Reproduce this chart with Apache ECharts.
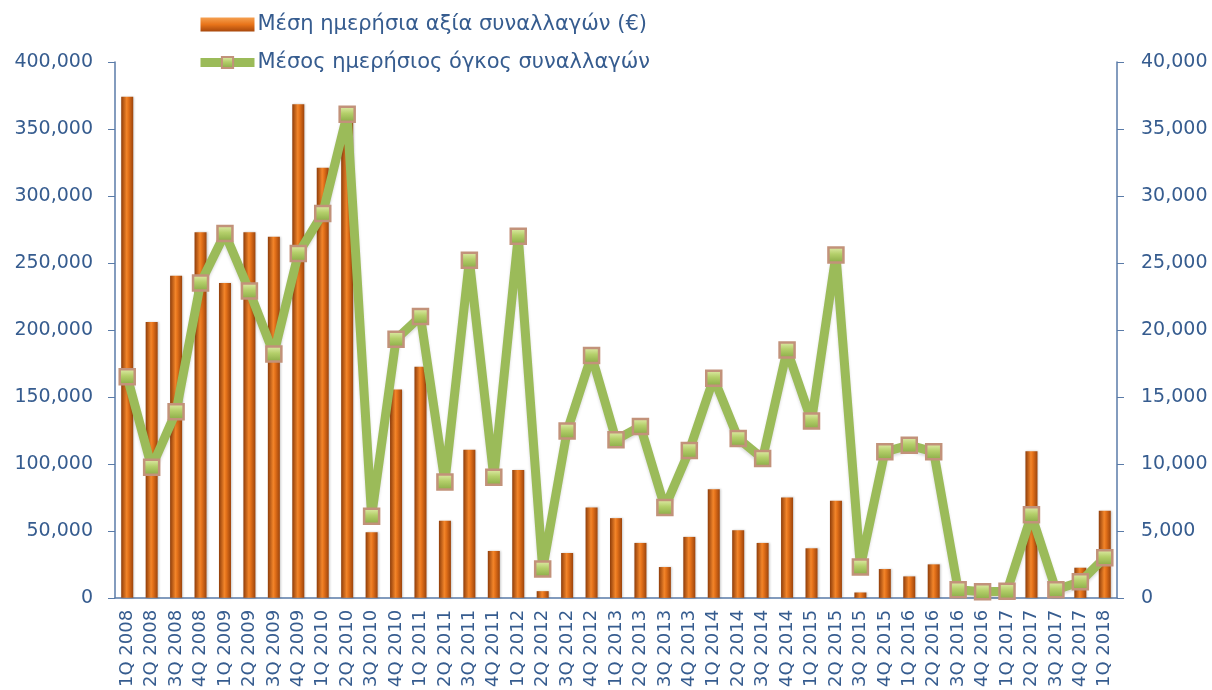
<!DOCTYPE html>
<html>
<head>
<meta charset="utf-8">
<script src="https://cdn.jsdelivr.net/npm/echarts@6/dist/echarts.min.js"></script>
<style>
html,body{margin:0;padding:0;background:#fff;}
#chart{width:1212px;height:690px;}
</style>
</head>
<body>
<div id="chart"></div>
<script>
const categories = ["1Q 2008","2Q 2008","3Q 2008","4Q 2008","1Q 2009","2Q 2009","3Q 2009","4Q 2009",
"1Q 2010","2Q 2010","3Q 2010","4Q 2010","1Q 2011","2Q 2011","3Q 2011","4Q 2011",
"1Q 2012","2Q 2012","3Q 2012","4Q 2012","1Q 2013","2Q 2013","3Q 2013","4Q 2013",
"1Q 2014","2Q 2014","3Q 2014","4Q 2014","1Q 2015","2Q 2015","3Q 2015","4Q 2015",
"1Q 2016","2Q 2016","3Q 2016","4Q 2016","1Q 2017","2Q 2017","3Q 2017","4Q 2017","1Q 2018"];

const valueSeriesName = "Μέση ημερήσια αξία συναλλαγών (€)";
const volumeSeriesName = "Μέσος ημερήσιος όγκος συναλλαγών";

const avgDailyValue = [374000,206000,240500,273000,235000,273000,269500,368500,
321000,355000,49000,155500,172500,57500,110500,35000,
95500,5000,33500,67500,59500,41000,23000,45500,
81000,50500,41000,75000,37000,72500,4000,21500,
16000,25000,1500,1000,1000,109500,9000,22500,65000];

const avgDailyVolume = [16500,9750,13900,23500,27200,22900,18200,25700,
28700,36100,6100,19300,21000,8650,25200,9000,
27000,2150,12450,18100,11800,12800,6750,11000,
16400,11900,10400,18500,13200,25600,2300,10900,
11400,10900,600,450,500,6200,600,1200,3000];

const leftTicks = {min:0, max:400000, interval:50000};
const rightTicks = {min:0, max:40000, interval:5000};

const fontFamily = "DejaVu Sans";
const textColor = "#365c8f";
const axisColor = "#5a7ba8";

const barGradient = new echarts.graphic.LinearGradient(0,0,1,0,[
  {offset:0,color:"#8f3d0a"},
  {offset:0.45,color:"#f2852a"},
  {offset:0.6,color:"#e5721a"},
  {offset:1,color:"#9c440c"}
]);
const legendBarGradient = new echarts.graphic.LinearGradient(0,0,0,1,[
  {offset:0,color:"#f5a050"},
  {offset:0.5,color:"#e8741a"},
  {offset:1,color:"#a8480c"}
]);
const markerGradient = new echarts.graphic.LinearGradient(0,0,0,1,[
  {offset:0,color:"#e6efb0"},
  {offset:0.45,color:"#b4cf6a"},
  {offset:1,color:"#86a843"}
]);

const chart = echarts.init(document.getElementById('chart'), null, {renderer:'canvas'});
const fmt = v => v.toLocaleString('en-US');

chart.setOption({
  animation:false,
  backgroundColor:'#ffffff',
  textStyle:{fontFamily:fontFamily},
  legend:{
    orient:'vertical',
    left:191, top:9,
    itemWidth:54, itemHeight:14, itemGap:17,
    textStyle:{fontSize:21, color:textColor, fontFamily:fontFamily, padding:[0,0,0,-2]},
    data:[
      {name:valueSeriesName, icon:'rect', itemStyle:{color:legendBarGradient}},
      {name:volumeSeriesName, lineStyle:{width:9, color:'#9bbb59'}}
    ]
  },
  grid:{left:115, right:95, top:62, bottom:91, containLabel:false},
  xAxis:{
    type:'category',
    data:categories,
    axisLine:{show:true, lineStyle:{color:axisColor, width:1.5}},
    axisTick:{show:false},
    axisLabel:{rotate:90, interval:0, fontSize:18, color:textColor, margin:12, fontFamily:fontFamily}
  },
  yAxis:[
    {
      type:'value', position:'left',
      min:leftTicks.min, max:leftTicks.max, interval:leftTicks.interval,
      splitLine:{show:false},
      axisLine:{show:true, lineStyle:{color:axisColor, width:1.5}},
      axisTick:{show:true, length:7, inside:false, lineStyle:{color:axisColor}},
      axisLabel:{fontSize:19, color:textColor, margin:22, formatter:fmt, fontFamily:fontFamily}
    },
    {
      type:'value', position:'right',
      min:rightTicks.min, max:rightTicks.max, interval:rightTicks.interval,
      splitLine:{show:false},
      axisLine:{show:true, lineStyle:{color:axisColor, width:1.5}},
      axisTick:{show:true, length:7, inside:false, lineStyle:{color:axisColor}},
      axisLabel:{fontSize:19, color:textColor, margin:24, formatter:fmt, fontFamily:fontFamily}
    }
  ],
  series:[
    {
      name:valueSeriesName,
      type:'bar',
      yAxisIndex:0,
      data:avgDailyValue,
      barWidth:12,
      itemStyle:{color:barGradient, shadowColor:'rgba(0,0,0,0.2)', shadowBlur:2, shadowOffsetX:1}
    },
    {
      name:volumeSeriesName,
      type:'line',
      yAxisIndex:1,
      data:avgDailyVolume,
      z:5,
      symbol:'rect',
      symbolSize:15,
      lineStyle:{color:'#9bbb59', width:9, shadowColor:'rgba(0,0,0,0.15)', shadowBlur:3, shadowOffsetY:2},
      itemStyle:{color:markerGradient, borderColor:'#c2927a', borderWidth:2.5},
      emphasis:{disabled:true}
    }
  ]
});
</script>
</body>
</html>
